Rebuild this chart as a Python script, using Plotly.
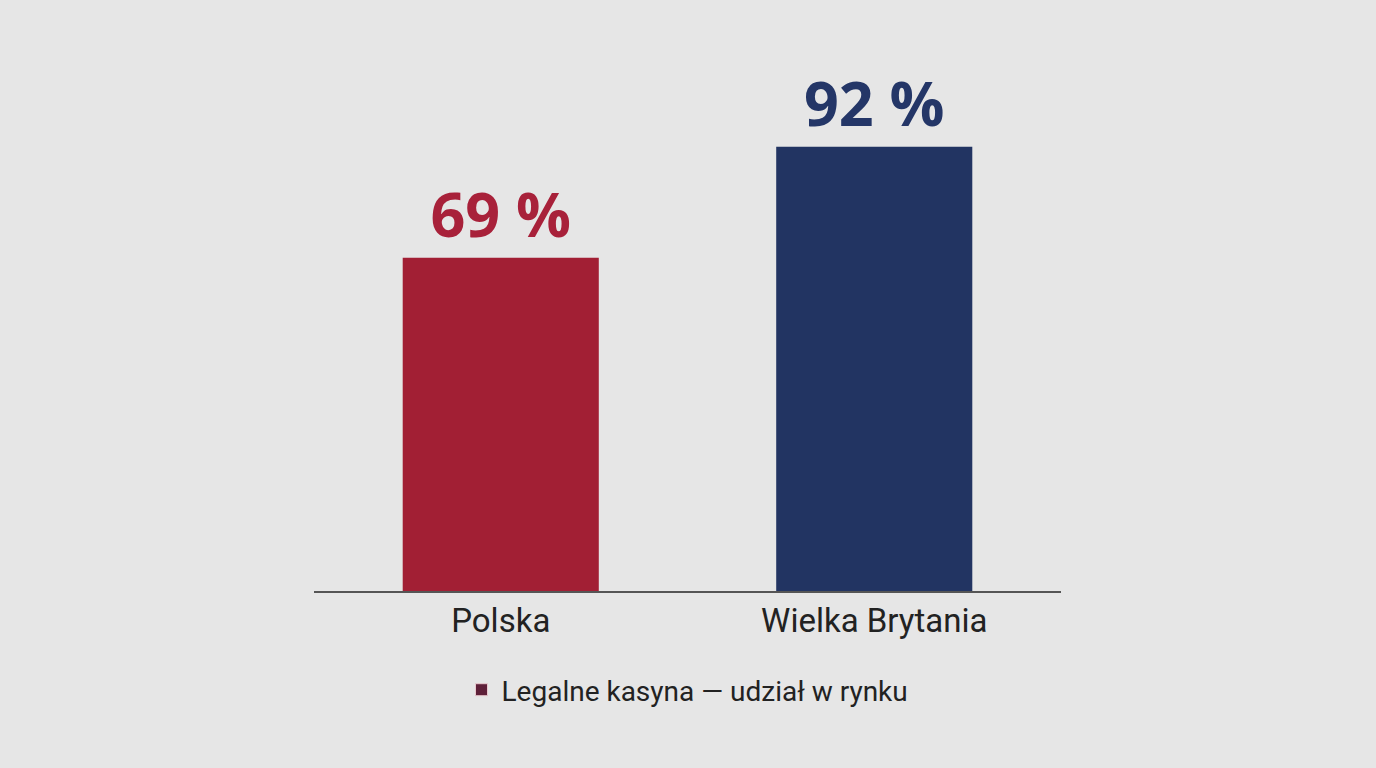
import plotly.graph_objects as go

# dane
kraje = ["Polska", "Wielka Brytania"]
udzial = [69, 92]
etykiety = ["69 %", "92 %"]
kolory_slupkow = ["#a21f34", "#223462"]
kolory_tekstu = ["#a8213a", "#243667"]
nazwa_serii = "Legalne kasyna — udział w rynku"

fig = go.Figure()

fig.add_trace(go.Bar(
    x=kraje,
    y=udzial,
    text=etykiety,
    textposition="outside",
    cliponaxis=False,
    textfont=dict(family="Open Sans", size=61, color=kolory_tekstu, weight="bold"),
    marker=dict(color=kolory_slupkow, line=dict(width=0)),
    showlegend=False,
    hoverinfo="x+y",
))

# wpis legendy (kolor mieszany jak w oryginale)
fig.add_trace(go.Bar(
    x=[None], y=[None],
    name=nazwa_serii,
    marker=dict(color="#5e2039", line=dict(color="#e9c8cf", width=1)),
    showlegend=True,
))

fig.update_layout(
    width=1376,
    height=768,
    paper_bgcolor="#e6e6e6",
    plot_bgcolor="#e6e6e6",
    margin=dict(l=314, r=315, t=108, b=177),
    bargap=0.475,
    barmode="overlay",
    font=dict(family="Roboto", color="#222222"),
    xaxis=dict(
        showline=True, linecolor="#555555", linewidth=1.5,
        showgrid=False, ticks="",
        tickfont=dict(family="Roboto", size=33, color="#222222"),
    ),
    yaxis=dict(range=[0, 100], visible=False, showgrid=False),
    legend=dict(
        orientation="h",
        x=0.5, xanchor="center",
        y=-0.205, yanchor="middle",
        font=dict(family="Roboto", size=28, color="#222222"),
        bgcolor="rgba(0,0,0,0)",
    ),
)

# bez marginesu strony, zeby wykres zaczynal sie w rogu okna
fig.write_html(
    "out.html",
    config={"displayModeBar": False},
    post_script="document.body.style.margin='0';document.body.style.overflow='hidden';",
)
